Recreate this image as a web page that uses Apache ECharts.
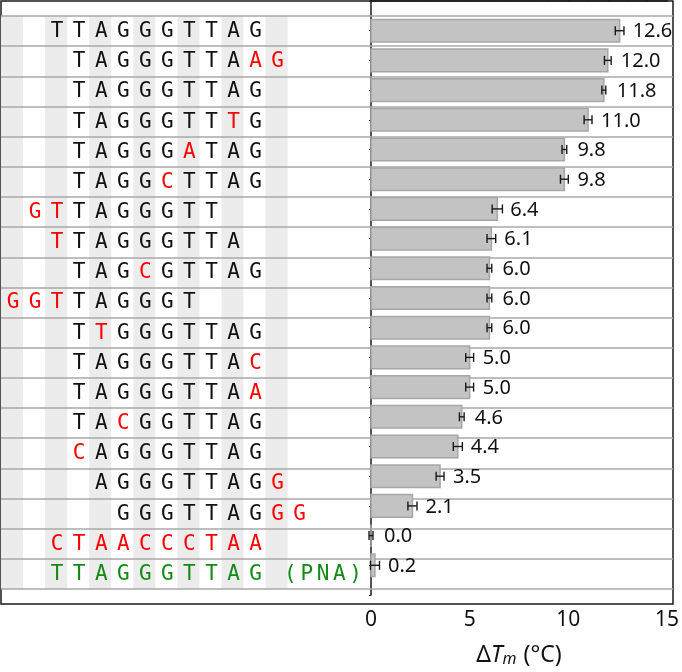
<!DOCTYPE html>
<html>
<head>
<meta charset="utf-8">
<script src="https://cdn.jsdelivr.net/npm/echarts@6/dist/echarts.min.js"></script>
<style>
html,body{margin:0;padding:0;background:#fff;}
#chart{width:682px;height:672px;}
</style>
</head>
<body>
<div id="chart"></div>
<script>
// sequences, top to bottom
var sequences = ['TTAGGGTTAG','TAGGGTTAAG','TAGGGTTAG','TAGGGTTTG','TAGGGATAG','TAGGCTTAG','GTTAGGGTT','TTAGGGTTA','TAGCGTTAG','GGTTAGGGT','TTGGGTTAG','TAGGGTTAC','TAGGGTTAA','TACGGTTAG','CAGGGTTAG','AGGGTTAGG','GGGTTAGGG','CTAACCCTAA','TTAGGGTTAG'];
// column where each sequence starts
var seqStart = [2,3,3,3,3,3,1,2,3,0,3,3,3,3,3,4,5,2,2];
// letter colours: . black, r red, g green
var seqColors = ['..........','........rr','.........','.......r.','.....r...','....r....','rr.......','r........','...r.....','rrr......','.r.......','........r','........r','..r......','r........','........r','.......rr','rrrrrrrrrr','gggggggggg'];
var seqSuffix = ['','','','','','','','','','','','','','','','','','','(PNA)'];
// delta Tm (C) and error
var dTm = [12.6,12.0,11.8,11.0,9.8,9.8,6.4,6.1,6.0,6.0,6.0,5.0,5.0,4.6,4.4,3.5,2.1,0.0,0.2];
var dTmErr = [0.22,0.17,0.1,0.2,0.12,0.2,0.26,0.22,0.12,0.12,0.12,0.2,0.2,0.12,0.23,0.2,0.23,0.1,0.23];
var xTicks = [0,5,10,15];
var stripeCols = [0,2,4,6,8,10,12];

var COLW = 22.05;
var colorMap = {'.': '#111111', 'r': '#ff0000', 'g': '#138a13'};

var letters = [];
sequences.forEach(function(s, r){
	for (var j = 0; j < s.length; j++) {
		letters.push([seqStart[r] + j + 0.5, r, s[j], colorMap[seqColors[r][j]]]);
	}
	var suf = seqSuffix[r];
	for (var k = 0; k < suf.length; k++) {
		letters.push([13.08 + k * 0.74, r, suf[k], colorMap[seqColors[r][0]]]);
	}
});

var rows = dTm.map(function(v, i){ return [v, dTmErr[i], i]; });
var rowIdx = sequences.map(function(s, i){ return i; });

var myChart = echarts.init(document.getElementById('chart'));
var option = {
	animation: false,
	grid: [
		{left: 1, right: 9, top: 16, bottom: 83},
		{left: 371, right: 9, top: 1, bottom: 68},
		{left: 1, right: 9, top: 1, bottom: 68, show: true, borderColor: '#1a1a1a', borderWidth: 1.5}
	],
	xAxis: [
		{gridIndex: 0, type: 'value', min: 0, max: 672 / COLW, show: false},
		{
			gridIndex: 1, type: 'value', position: 'bottom',
			min: xTicks[0], max: xTicks[xTicks.length - 1], interval: xTicks[1] - xTicks[0],
			axisLine: {show: true, lineStyle: {color: '#1a1a1a', width: 1.5}},
			axisTick: {show: true, inside: true, length: 10, lineStyle: {color: '#1a1a1a', width: 1.2}},
			minorTick: {show: true, splitNumber: 5, length: 5, lineStyle: {color: '#1a1a1a', width: 1}},
			splitLine: {show: false},
			axisLabel: {margin: 15, fontSize: 21, color: '#111', fontFamily: 'Noto Sans'},
			name: '{d|\u0394}{t|T}{s|m}{d| (°C)}',
			nameLocation: 'middle',
			nameGap: 48,
			nameTextStyle: {
				fontFamily: 'Noto Sans', color: '#111', fontSize: 23,
				rich: {
					d: {fontSize: 23, fontFamily: 'Noto Sans', color: '#111'},
					t: {fontSize: 23, fontStyle: 'italic', fontFamily: 'Noto Sans', color: '#111'},
					s: {fontSize: 16, fontStyle: 'italic', fontFamily: 'Noto Sans', color: '#111', verticalAlign: 'bottom', padding: [8, 1, 0, 0]}
				}
			}
		},
		{gridIndex: 2, type: 'value', show: false}
	],
	yAxis: [
		{
			gridIndex: 0, type: 'category', data: rowIdx, inverse: true, z: 5,
			axisLine: {show: false}, axisTick: {show: false}, axisLabel: {show: false},
			splitLine: {show: true, interval: 0, lineStyle: {color: '#a8a8a8', width: 1.5}}
		},
		{
			gridIndex: 1, type: 'value', min: 0, max: 40, interval: 2, inverse: true,
			axisLine: {show: true, lineStyle: {color: '#1a1a1a', width: 1.5}},
			axisTick: {show: true, length: 2, lineStyle: {color: '#1a1a1a'}},
			axisLabel: {show: false}, splitLine: {show: false}
		},
		{gridIndex: 2, type: 'value', show: false}
	],
	series: [
		{
			// column stripes
			type: 'custom', xAxisIndex: 0, yAxisIndex: 0, z: 1, silent: true,
			data: stripeCols.map(function(c){ return [c]; }),
			renderItem: function(params, api){
				var cs = params.coordSys;
				var x0 = api.coord([api.value(0), 0])[0];
				var x1 = api.coord([api.value(0) + 1, 0])[0];
				return {type: 'rect', shape: {x: x0, y: cs.y, width: x1 - x0, height: cs.height},
					style: {fill: '#ececec'}};
			}
		},
		{
			// letters
			type: 'custom', xAxisIndex: 0, yAxisIndex: 0, z: 6, silent: true,
			data: letters,
			renderItem: function(params, api){
				var d = letters[params.dataIndex];
				var p = api.coord([d[0], d[1]]);
				return {type: 'text', x: p[0] + 1, y: p[1] + 0.5,
					style: {text: d[2], fill: d[3], font: '21px "DejaVu Sans Mono"', align: 'center', verticalAlign: 'middle'}};
			}
		},
		{
			// bars with error bars and labels
			type: 'custom', xAxisIndex: 1, yAxisIndex: 1, z: 6, silent: true,
			data: rows,
			renderItem: function(params, api){
				var v = api.value(0), e = api.value(1), r = api.value(2);
				var yc = 2 + 2 * r;
				var p0 = api.coord([0, yc]);
				var p1 = api.coord([v, yc]);
				var pl = api.coord([v - e, yc]);
				var pr = api.coord([v + e, yc]);
				var hh = api.size([0, 2])[1] * 0.38;
				var cap = 4.5;
				var ls = {stroke: '#1a1a1a', lineWidth: 1.4};
				return {type: 'group', children: [
					{type: 'rect', shape: {x: p0[0], y: p0[1] - hh, width: p1[0] - p0[0], height: hh * 2},
						style: {fill: '#c3c3c3', stroke: '#a6a6a6', lineWidth: 1.5}},
					{type: 'line', shape: {x1: pl[0], y1: p1[1], x2: pr[0], y2: p1[1]}, style: ls},
					{type: 'line', shape: {x1: pl[0], y1: p1[1] - cap, x2: pl[0], y2: p1[1] + cap}, style: ls},
					{type: 'line', shape: {x1: pr[0], y1: p1[1] - cap, x2: pr[0], y2: p1[1] + cap}, style: ls},
					{type: 'text', x: p1[0] + 13, y: p1[1] + 1,
						style: {text: v.toFixed(1), fill: '#111', font: '20px "Noto Sans"', align: 'left', verticalAlign: 'middle'}}
				]};
			}
		}
	]
};
myChart.setOption(option);
</script>
</body>
</html>
